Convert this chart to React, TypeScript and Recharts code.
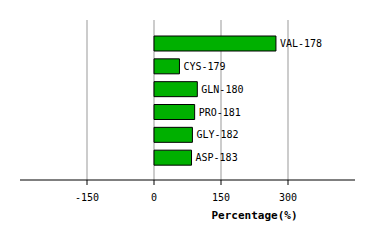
import {BarChart, Bar, XAxis, YAxis, ReferenceLine, LabelList} from 'recharts';

const residues = ['VAL-178', 'CYS-179', 'GLN-180', 'PRO-181', 'GLY-182', 'ASP-183'];
const percentages = [273, 57, 97, 91, 86, 84];
const xTicks = [-150, 0, 150, 300];

const data = residues.map((name, i) => ({name, value: percentages[i]}));

const font = '"DejaVu Sans Mono", monospace';

export default function App() {
    return (
        <div style={{position: 'absolute', left: 0, top: 0, background: '#fff'}}>
            <BarChart width={374} height={240} data={data} layout="vertical"
                      margin={{top: 20, right: 19, left: 20, bottom: 30}}>
                <XAxis type="number" domain={[-300, 450]} ticks={xTicks} height={30}
                       axisLine={{stroke: '#000'}} tickLine={{stroke: '#000'}} tickSize={5} tickMargin={9}
                       tick={{fill: '#000', fontSize: 10, fontFamily: font}}
                       label={{
                           content: ({viewBox}: any) => (
                               <text x={viewBox.x + viewBox.width / 2 + 67} y={viewBox.y + 39} textAnchor="middle"
                                     fontFamily={font} fontSize={11} fontWeight="bold" fill="#000">
                                   Percentage(%)
                               </text>
                           ),
                       }}/>
                <YAxis type="category" dataKey="name" hide padding={{top: 12, bottom: 11}}/>
                {/* grid lines only at the tick values, kept behind the bars */}
                {xTicks.map((t) => (
                    <ReferenceLine key={t} x={t} stroke="#999" strokeWidth={1} zIndex={-100}/>
                ))}
                <Bar dataKey="value" fill="#00b000" stroke="#000" strokeWidth={1} barSize={15}
                     isAnimationActive={false}>
                    <LabelList dataKey="name" position="right" offset={4} fill="#000" fontSize={10}
                               fontFamily={font}/>
                </Bar>
            </BarChart>
        </div>
    );
}
